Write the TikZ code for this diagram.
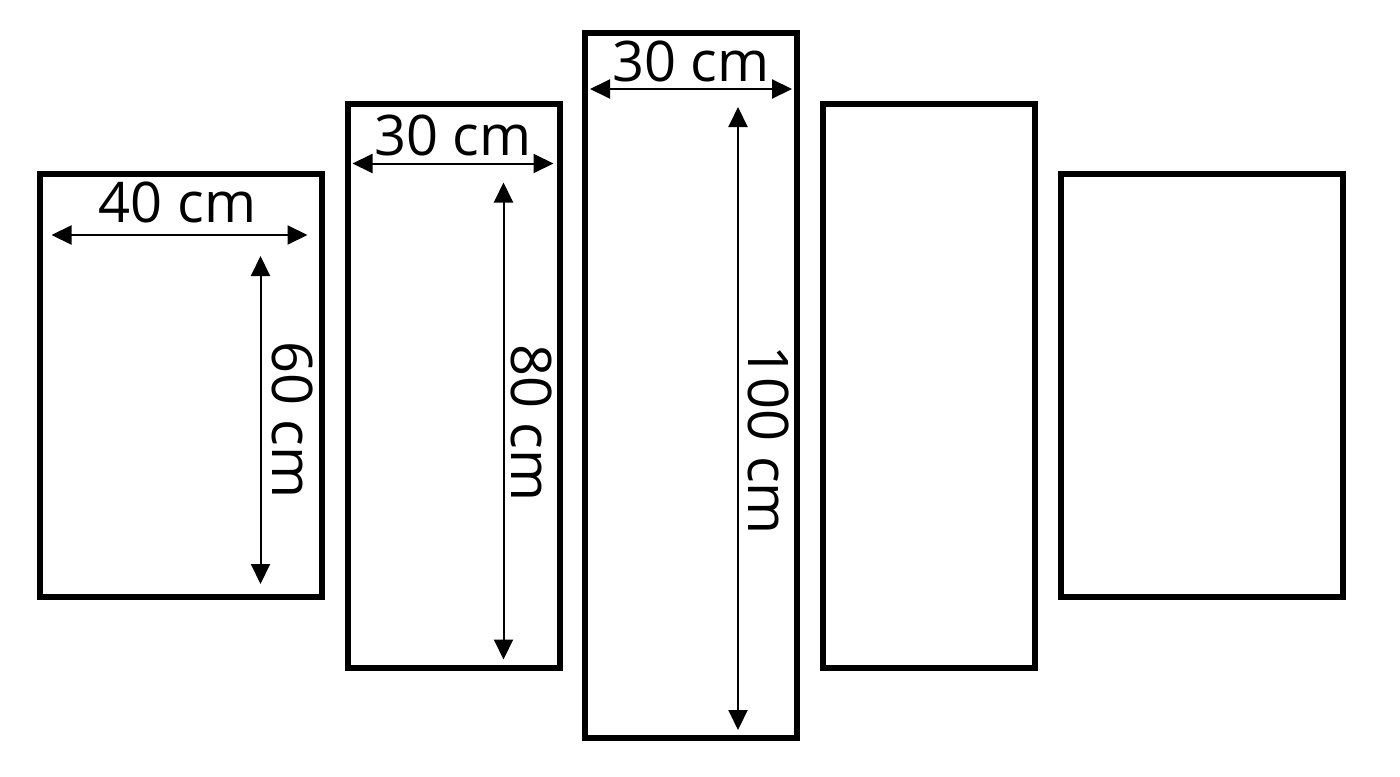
\documentclass[tikz,border=0pt]{standalone}
\usepackage{fontspec}
\setmainfont{Open Sans}
\usetikzlibrary{positioning,calc,arrows.meta}
\tikzset{
    panel/.style args={#1 by #2}{draw,line width=3pt,minimum width=#1,
        minimum height=#2,inner sep=0pt,outer sep=0pt},
    dim/.style={{Triangle[length=10pt,width=9.5pt]}-{Triangle[length=10pt,width=9.5pt]},line width=1pt},
    hlabel/.style={anchor=base,inner sep=0pt,font=\fontsize{28}{30}\selectfont},
    vlabel/.style={anchor=base,rotate=-90,inner sep=0pt,font=\fontsize{28}{30}\selectfont}
}
\begin{document}
\begin{tikzpicture}[x=0.5pt,y=-0.5pt]
    \useasboundingbox (0,0) rectangle (1400,776);
    % panels
    \node[panel=106pt by 352.5pt] (p3) at (691,385.5) {};
    \node[panel=106pt by 282pt,left=12.75pt of p3] (p2) {};
    \node[panel=141pt by 211.5pt,left=13pt of p2] (p1) {};
    \node[panel=106pt by 282pt,right=12.75pt of p3] (p4) {};
    \node[panel=141pt by 211.5pt,right=13pt of p4] (p5) {};
    %
    % 40 x 60
    \coordinate (w1a) at ($(p1.north west)+(12,61)$);
    \coordinate (w1b) at ($(p1.north east)+(-14,61)$);
    \coordinate (h1a) at ($(p1.north west)+(221,82)$);
    \coordinate (h1b) at ($(p1.south west)+(221,-13)$);
    \draw[dim] (w1a) -- (w1b);
    \draw[dim] (h1a) -- (h1b);
    \node[hlabel] (lw1) at ($(w1a)!0.5!(w1b)+(-2,-13)$) {40 cm};
    \node[vlabel] (lh1) at ($(h1a)!0.5!(h1b)+(12,0)$) {60 cm};
    %
    % 30 x 80
    \coordinate (w2a) at ($(p2.north west)+(5,60)$);
    \coordinate (w2b) at ($(p2.north east)+(-6,60)$);
    \coordinate (h2a) at ($(p2.north west)+(156,79)$);
    \coordinate (h2b) at ($(p2.south west)+(156,-8)$);
    \draw[dim] (w2a) -- (w2b);
    \draw[dim] (h2a) -- (h2b);
    \node[hlabel] (lw2) at ($(w2a)!0.5!(w2b)+(0,-8)$) {30 cm};
    \node[vlabel] (lh2) at ($(h2a)!0.5!(h2b)+(8,2)$) {80 cm};
    %
    % 30 x 100
    \coordinate (w3a) at ($(p3.north west)+(5,56)$);
    \coordinate (w3b) at ($(p3.north east)+(-5,56)$);
    \coordinate (h3a) at ($(p3.north west)+(153,74)$);
    \coordinate (h3b) at ($(p3.south west)+(153,-8)$);
    \draw[dim] (w3a) -- (w3b);
    \draw[dim] (h3a) -- (h3b);
    \node[hlabel] (lw3) at ($(w3a)!0.5!(w3b)+(0,-8)$) {30 cm};
    \node[vlabel] (lh3) at ($(h3a)!0.535!(h3b)+(10,0)$) {100 cm};
\end{tikzpicture}
\end{document}
